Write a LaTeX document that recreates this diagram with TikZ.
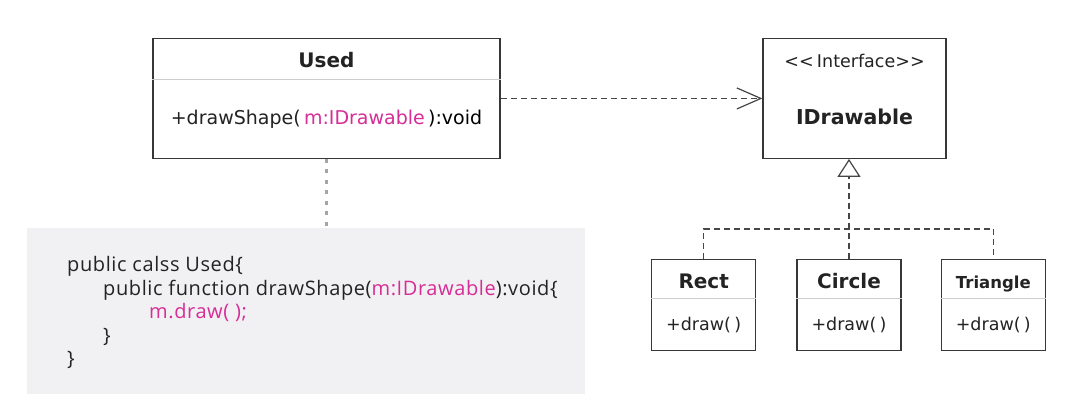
\documentclass[tikz,border=0pt]{standalone}
\usepackage{fontspec}
\setmainfont{DejaVu Sans}
\newfontfamily\codefont[LetterSpace=3]{Open Sans}
\usetikzlibrary{positioning,arrows.meta,shapes}
\definecolor{boxc}{RGB}{55,55,55}
\definecolor{splitc}{RGB}{205,205,205}
\definecolor{linec}{RGB}{70,70,70}
\definecolor{dotc}{RGB}{165,165,165}
\definecolor{codebg}{RGB}{241,241,243}
\definecolor{paramc}{RGB}{214,45,150}
\definecolor{txtc}{RGB}{35,35,35}
\newcommand{\fsz}[1]{\fontsize{#1}{#1}\selectfont}
\newcommand{\uhead}[1]{\rule[-12pt]{0pt}{40pt}#1}
\newcommand{\ubody}[1]{\rule[-33pt]{0pt}{77pt}#1}
\newcommand{\shead}[1]{\rule[-10pt]{0pt}{38pt}#1}
\newcommand{\sbody}[1]{\rule[-19pt]{0pt}{50pt}#1}
\tikzstyle{classbox}=[rectangle split, rectangle split parts=2, rectangle split draw splits=false,
draw=boxc, line width=1.3pt, inner xsep=0pt, inner ysep=0pt, align=center, text=txtc]
\tikzstyle{divline}=[-, line width=1pt, splitc]
\tikzstyle{depline}=[-, line width=1.2pt, linec, dash pattern=on 6pt off 4pt]
\tikzstyle{noteline}=[-, line width=2.5pt, dotc, dash pattern=on 4pt off 6.5pt]
\tikzstyle{codebox}=[rectangle, fill=codebg, inner sep=0pt]
\tikzstyle{codetext}=[inner sep=0pt, anchor=base west, font=\codefont\fsz{20}, text=txtc]

\begin{document}
\begin{tikzpicture}[x=1pt, y=1pt]
\path[use as bounding box, fill=white] (0,0) rectangle (1089,-412);

% Used class
    \node (used) [classbox, anchor=north, text width=347pt] at (326.5,-38)
    {\uhead{\fsz{20}\bfseries Used}%
     \nodepart{second}\ubody{\fsz{19}+drawShape( \textcolor{paramc}{m:IDrawable} ):void}};
    \draw[divline] (used.text split west) -- (used.text split east);

% Interface
    \node (idraw) [classbox, anchor=north, text width=183pt] at (854.5,-38)
    {\uhead{\fsz{17.5}<{}< Interface>{}>}%
     \nodepart{second}\ubody{\fsz{20.5}\bfseries IDrawable}};

% Implementing classes
    \node (circ) [classbox, anchor=north, text width=104pt] at (849,-259)
    {\shead{\fsz{20}\bfseries Circle}\nodepart{second}\sbody{\fsz{17.5}+draw( )}};
    \node (rect) [classbox, text width=104pt, left=40pt of circ]
    {\shead{\fsz{20}\bfseries Rect}\nodepart{second}\sbody{\fsz{17.5}+draw( )}};
    \node (trig) [classbox, text width=104pt, right=39pt of circ]
    {\shead{\fsz{16.5}\bfseries Triangle}\nodepart{second}\sbody{\fsz{17.5}+draw( )}};
    \draw[divline] (circ.text split west) -- (circ.text split east);
    \draw[divline] (rect.text split west) -- (rect.text split east);
    \draw[divline] (trig.text split west) -- (trig.text split east);

% Code note
    \node (code) [codebox, anchor=north west, minimum width=558pt, minimum height=166pt] at (27,-228) {};
    \node (codeA) [codetext] at (67,-271.5) {public calss Used\{};
    \node (codeB) [codetext] at (103,-295) {public function drawShape(\textcolor{paramc}{m:IDrawable}):void\{};
    \node (codeC) [codetext] at (149,-318.5) {\textcolor{paramc}{m.draw( );}};
    \node (codeD) [codetext] at (103,-342) {\}};
    \node (codeE) [codetext] at (67,-365.5) {\}};

% Connectors
    \draw[depline, -{Straight Barb[length=24pt, width=21pt, line width=1.2pt]}] (used.east) -- (idraw.west);
    \draw[noteline] (used.south) -- (used.south |- code.north);

    \coordinate (junc) at (849,-229);
    \draw[depline] (rect.north) |- (junc) -| (trig.north);
    \draw[depline, -{Triangle[open, length=18pt, width=23pt, fill=white, line width=1.2pt]}] (circ.north) -- (circ.north |- idraw.south);

\end{tikzpicture}
\end{document}
